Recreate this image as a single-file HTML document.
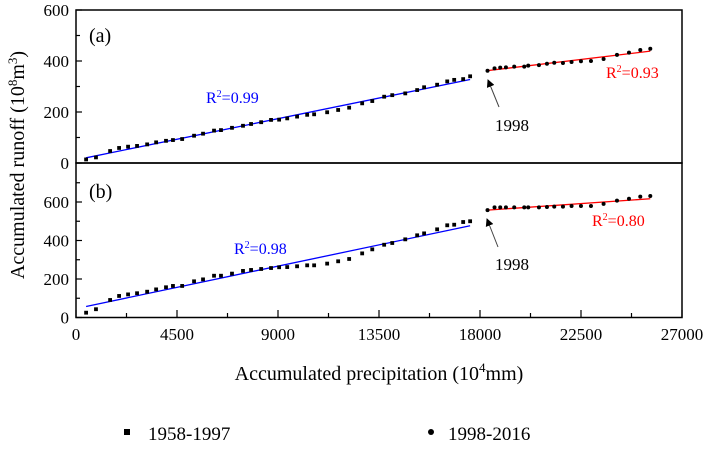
<!DOCTYPE html>
<html><head><meta charset="utf-8"><style>
body{margin:0;background:#fff;font-family:"Liberation Serif","Times New Roman",Times,serif;}
svg,text{font-family:"Liberation Serif","Times New Roman",Times,serif;}
</style></head><body>
<svg id="chart" width="706" height="450" viewBox="0 0 706 450" font-family="Liberation Serif, Times New Roman, serif"></svg>
<script>
const xTicks=[0,4500,9000,13500,18000,22500,27000];
const yTicksTop=[0,200,400,600];
const yTicksBot=[0,200,400,600];
const xEarly=[450,890,1520,1920,2320,2720,3170,3570,4010,4320,4730,5260,5660,6150,6460,6950,7440,7800,8250,8690,9050,9410,9850,10300,10610,11190,11680,12170,12750,13200,13730,14090,14670,15200,15510,16090,16540,16850,17250,17560];
const runoffEarlyA=[14,22,47,59,64,67,73,81,87,90,94,107,115,127,129,138,146,153,160,169,170,175,182,189,191,199,208,217,234,243,260,266,273,286,297,307,320,326,329,340];
const runoffEarlyB=[25,43,91,112,120,126,134,146,157,164,164,188,198,217,217,228,242,247,252,257,261,262,266,271,271,280,292,304,333,354,378,387,406,427,437,458,479,482,496,500];
const xLate=[18335,18647,18901,19155,19525,19971,20149,20626,20983,21308,21696,22079,22498,22944,23506,24103,24638,25141,25587];
const runoffLateA=[362,371,374,375,378,378,382,384,389,393,392,396,399,400,408,424,433,443,448];
const runoffLateB=[558,572,572,572,572,572,572,572,574,576,576,579,579,579,590,607,617,628,631];

const NS="http://www.w3.org/2000/svg";
const svg=document.getElementById('chart');
const L=76,R=682;
const X=v=>L+(v/27000)*(R-L);
const YA=v=>163-(v/600)*153;
const YB=v=>317.5-(v/800)*154;
function el(t,a,p){const e=document.createElementNS(NS,t);for(const k in a)e.setAttribute(k,a[k]);(p||svg).appendChild(e);return e;}
function txt(s,a){const e=el('text',a);e.setAttribute('font-family','Liberation Serif, serif');e.textContent=s;return e;}

let f=el('rect',{x:L,y:10,width:R-L,height:153,fill:'none',stroke:'#000','stroke-width':1.5});


f=el('rect',{x:L,y:163,width:R-L,height:154.5,fill:'none',stroke:'#000','stroke-width':1.5});



for(let i=0;i<xTicks.length;i++){
  const x=X(xTicks[i]);
  el('line',{x1:x,x2:x,y1:317.5,y2:310,stroke:'#000','stroke-width':1.2});
  if(i<xTicks.length-1){const xm=X(xTicks[i]+2250);el('line',{x1:xm,x2:xm,y1:317.5,y2:313,stroke:'#000','stroke-width':1.2});}
  const t=txt(String(xTicks[i]),{x:x,y:340,'font-size':17,'text-anchor':'middle'});
  
  
}
yTicksTop.forEach(v=>{
  const y=YA(v);
  el('line',{x1:L,x2:L+6,y1:y,y2:y,stroke:'#000','stroke-width':1.2});
  if(v<600){const ym=YA(v+100);el('line',{x1:L,x2:L+4,y1:ym,y2:ym,stroke:'#000','stroke-width':1.2});}
  const t=txt(String(v),{x:69,y:y+6,'font-size':17,'text-anchor':'end'});
  
  
});
yTicksBot.forEach(v=>{
  const y=YB(v);
  el('line',{x1:L,x2:L+6,y1:y,y2:y,stroke:'#000','stroke-width':1.2});
  const ym=YB(v+100);el('line',{x1:L,x2:L+4,y1:ym,y2:ym,stroke:'#000','stroke-width':1.2});
  const t=txt(String(v),{x:69,y:y+6,'font-size':17,'text-anchor':'end'});
  
  
});

function fit(xs,ys,Y,color,name){
  const n=xs.length;let sx=0,sy=0,sxx=0,sxy=0;
  for(let i=0;i<n;i++){sx+=xs[i];sy+=ys[i];sxx+=xs[i]*xs[i];sxy+=xs[i]*ys[i];}
  const b=(n*sxy-sx*sy)/(n*sxx-sx*sx),a=(sy-b*sx)/n;
  const x0=xs[0],x1=xs[n-1];
  const l=el('line',{x1:X(x0),y1:Y(a+b*x0),x2:X(x1),y2:Y(a+b*x1),stroke:color,'stroke-width':1.3});
  
  
}
fit(xEarly,runoffEarlyA,YA,'#0000ff','fit-line-a-early');
fit(xLate,runoffLateA,YA,'#ff0000','fit-line-a-late');
fit(xEarly,runoffEarlyB,YB,'#0000ff','fit-line-b-early');
fit(xLate,runoffLateB,YB,'#ff0000','fit-line-b-late');

function squares(xs,ys,Y,name){xs.forEach((v,i)=>{
  const r=el('rect',{x:X(v)-1.9,y:Y(ys[i])-1.9,width:3.8,height:3.8,fill:'#000'});
  
  
});}
function dots(xs,ys,Y,name){xs.forEach((v,i)=>{
  const c=el('circle',{cx:X(v),cy:Y(ys[i]),r:2,fill:'#000'});
  
  
});}
squares(xEarly,runoffEarlyA,YA,'point-a-early');
dots(xLate,runoffLateA,YA,'point-a-late');
squares(xEarly,runoffEarlyB,YB,'point-b-early');
dots(xLate,runoffLateB,YB,'point-b-late');
</script>
<svg width="706" height="450" style="position:absolute;left:0;top:0" font-family="Liberation Serif, serif">
<defs><marker id="ah" markerWidth="8" markerHeight="8" refX="7" refY="4" orient="auto"><path d="M0,0 L8,4 L0,8 z" fill="#000"/></marker></defs>
<text x="89" y="42" font-size="20">(a)</text>
<text x="89" y="198" font-size="20">(b)</text>
<text x="206" y="103" font-size="16" fill="#0000ff">R<tspan font-size="10" dy="-6">2</tspan><tspan dy="6">=0.99</tspan></text>
<text x="606" y="78" font-size="16" fill="#ff0000">R<tspan font-size="10" dy="-6">2</tspan><tspan dy="6">=0.93</tspan></text>
<text x="234" y="254" font-size="16" fill="#0000ff">R<tspan font-size="10" dy="-6">2</tspan><tspan dy="6">=0.98</tspan></text>
<text x="592" y="226" font-size="16" fill="#ff0000">R<tspan font-size="10" dy="-6">2</tspan><tspan dy="6">=0.80</tspan></text>
<line x1="499" y1="107" x2="488" y2="80" stroke="#444" stroke-width="1" marker-end="url(#ah)"/>
<text x="495" y="131" font-size="17">1998</text>
<line x1="498" y1="247" x2="487" y2="219" stroke="#444" stroke-width="1" marker-end="url(#ah)"/>
<text x="495" y="270" font-size="17">1998</text>
<text transform="translate(24,165) rotate(-90)" font-size="20" text-anchor="middle">Accumulated runoff (10<tspan font-size="13" dy="-7">8</tspan><tspan dy="7">m</tspan><tspan font-size="13" dy="-7">3</tspan><tspan dy="7">)</tspan></text>
<text x="379" y="380" font-size="20" text-anchor="middle">Accumulated precipitation (10<tspan font-size="13" dy="-8">4</tspan><tspan dy="8">mm)</tspan></text>
<g>
<rect x="124" y="429" width="6" height="6" fill="#000"/>
<text x="148" y="440" font-size="19">1958-1997</text>
<circle cx="431" cy="432" r="3" fill="#000"/>
<text x="448" y="440" font-size="19">1998-2016</text>
</g>
</svg>
</body></html>
